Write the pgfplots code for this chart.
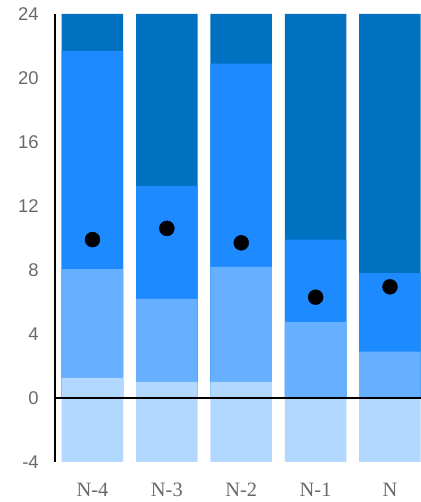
\documentclass[border=0pt]{standalone}
\usepackage{pgfplots}
\pgfplotsset{compat=1.18}
\usepackage{fontspec}
\setmainfont{Liberation Serif}
\newfontfamily\sansf{Liberation Sans}
\definecolor{cdark}{RGB}{0,112,192}
\definecolor{cmed}{RGB}{30,138,255}
\definecolor{clight}{RGB}{102,176,255}
\definecolor{clightest}{RGB}{179,216,255}
\definecolor{labgray}{RGB}{105,105,105}
\begin{document}
\begin{tikzpicture}
\begin{axis}[
  at={(0,0)}, anchor=south west,
  scale only axis, width=366bp, height=448bp,
  xmin=-0.504, xmax=4.417, ymin=-4, ymax=24,
  axis y line=left, axis x line=bottom,
  x axis line style={draw=none},
  y axis line style={line width=1.6pt, -},
  major tick length=0pt,
  ytick={-4,0,4,8,12,16,20,24},
  yticklabels={-4,0,4,8,12,16,20,24},
  xtick={0,1,2,3,4},
  xticklabels={N-4,N-3,N-2,N-1,N},
  yticklabel style={font=\sansf\fontsize{18.5}{18.5}\selectfont, text=labgray, anchor=east, xshift=-12.8bp},
  xticklabel style={font=\fontsize{20.5}{20.5}\selectfont, text=labgray, anchor=base, yshift=-34.5bp},
  ybar, bar width=61.5bp,
  clip=true,
]
% dark (top of stack)
\addplot[ybar, bar shift=0pt, fill=cdark, draw=none] coordinates {(0,24) (1,24) (2,24) (3,24) (4,24)};
% medium tops
\addplot[ybar, bar shift=0pt, fill=cmed, draw=none] coordinates {(0,21.7) (1,13.25) (2,20.9) (3,9.9) (4,7.8)};
% light tops
\addplot[ybar, bar shift=0pt, fill=clight, draw=none] coordinates {(0,8.05) (1,6.2) (2,8.2) (3,4.75) (4,2.9)};
% lightest tops (positive part)
\addplot[ybar, bar shift=0pt, fill=clightest, draw=none] coordinates {(0,1.25) (1,1.0) (2,1.0) (3,0) (4,0)};
% lightest negative part
\addplot[ybar, bar shift=0pt, fill=clightest, draw=none] coordinates {(0,-4) (1,-4) (2,-4) (3,-4) (4,-4)};
% dots
\addplot[only marks, mark=*, mark size=7.5bp, black] coordinates {(0,9.9) (1,10.6) (2,9.7) (3,6.3) (4,6.95)};
\draw[black, line width=1.6pt] (axis cs:-0.504,0) -- (axis cs:4.417,0);
\end{axis}
\pgfresetboundingbox
\path (-55bp,-40bp) rectangle (366bp,462bp);
\end{tikzpicture}
\end{document}
